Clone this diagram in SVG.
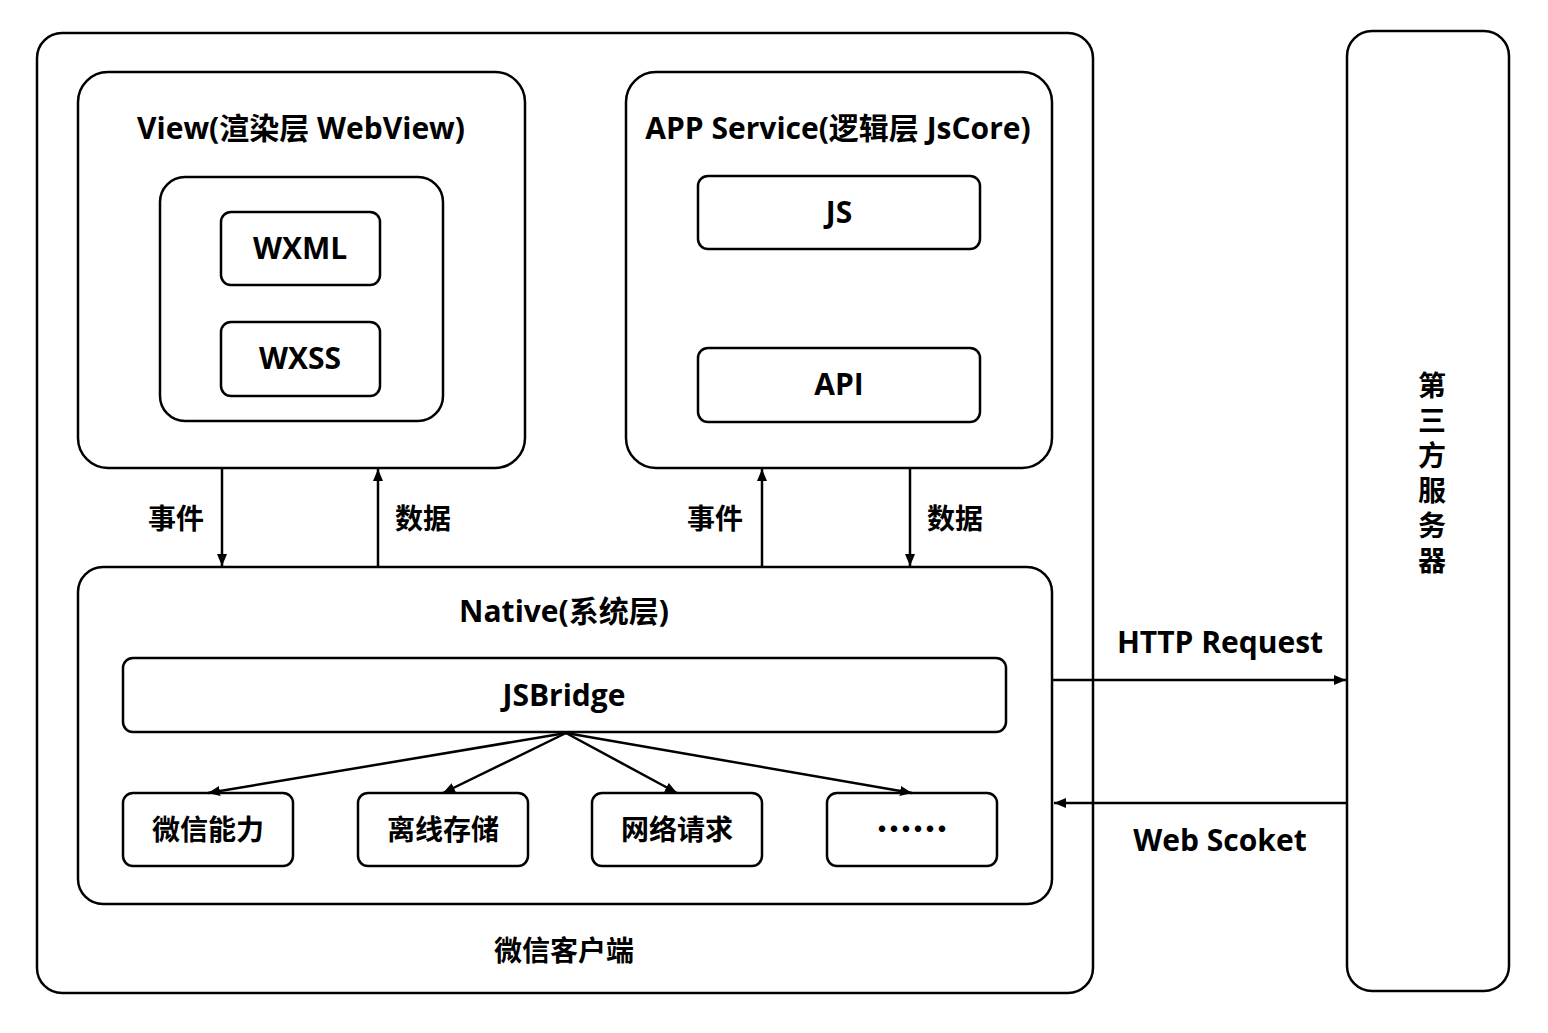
<svg xmlns="http://www.w3.org/2000/svg" width="1548" height="1033" viewBox="0 0 1548 1033">
<style>
.box{fill:#fff;stroke:#000;stroke-width:2.5}
.t{font-family:"Open Sans","Noto Sans CJK SC",sans-serif;font-weight:bold;font-size:30px;fill:#000;text-anchor:middle}
.c{font-family:"Noto Sans CJK SC",sans-serif;font-weight:bold;font-size:28px;fill:#000;text-anchor:middle}
.v{font-family:"Noto Sans CJK SC",sans-serif;font-weight:bold;font-size:28px;fill:#000;writing-mode:vertical-rl;letter-spacing:7px}
.d{font-family:"Noto Sans CJK SC",sans-serif;font-weight:900;font-size:36px;fill:#000;text-anchor:middle}
.ln{stroke:#000;stroke-width:2.5;fill:none;marker-end:url(#ah)}
</style>
<defs>
<marker id="ah" viewBox="0 0 12 10" refX="12" refY="5" markerWidth="12" markerHeight="10" markerUnits="userSpaceOnUse" orient="auto">
<path d="M0,0 L12,5 L0,10 Z" fill="#000"/>
</marker>
</defs>
<rect width="1548" height="1033" fill="#fff"/>
<g id="client">
<rect class="box" x="37" y="33" width="1056" height="960" rx="25"/>
<text class="c" x="564" y="961">微信客户端</text>
</g>
<g id="view">
<rect class="box" x="78" y="72" width="447" height="396" rx="30"/>
<text class="t" x="301" y="139">View(渲染层 WebView)</text>
</g>
<g id="view-inner">
<rect class="box" x="160" y="177" width="283" height="244" rx="25"/>
</g>
<g id="wxml">
<rect class="box" x="221" y="212" width="159" height="73" rx="10"/>
<text class="t" x="300" y="259">WXML</text>
</g>
<g id="wxss">
<rect class="box" x="221" y="322" width="159" height="74" rx="10"/>
<text class="t" x="300" y="369">WXSS</text>
</g>
<g id="appservice">
<rect class="box" x="626" y="72" width="426" height="396" rx="30"/>
<text class="t" x="838" y="139">APP Service(逻辑层 JsCore)</text>
</g>
<g id="js">
<rect class="box" x="698" y="176" width="282" height="73" rx="10"/>
<text class="t" x="839" y="223">JS</text>
</g>
<g id="api">
<rect class="box" x="698" y="348" width="282" height="74" rx="10"/>
<text class="t" x="839" y="395">API</text>
</g>
<g id="native">
<rect class="box" x="78" y="567" width="974" height="337" rx="25"/>
<text class="t" x="564" y="622">Native(系统层)</text>
</g>
<g id="jsbridge">
<rect class="box" x="123" y="658" width="883" height="74" rx="10"/>
<text class="t" x="564" y="706">JSBridge</text>
</g>
<g id="wx-ability">
<rect class="box" x="123" y="793" width="170" height="73" rx="10"/>
<text class="c" x="208" y="840">微信能力</text>
</g>
<g id="offline-storage">
<rect class="box" x="358" y="793" width="170" height="73" rx="10"/>
<text class="c" x="443" y="840">离线存储</text>
</g>
<g id="network">
<rect class="box" x="592" y="793" width="170" height="73" rx="10"/>
<text class="c" x="677" y="840">网络请求</text>
</g>
<g id="more">
<rect class="box" x="827" y="793" width="170" height="73" rx="10"/>
<text class="d" x="912" y="843">……</text>
</g>
<g id="server">
<rect class="box" x="1347" y="31" width="162" height="960" rx="25"/>
<text class="v" x="1432" y="371">第三方服务器</text>
</g>
<g id="connectors">
<line class="ln" x1="222" y1="468" x2="222" y2="566"/>
<line class="ln" x1="378" y1="567" x2="378" y2="469"/>
<line class="ln" x1="762" y1="567" x2="762" y2="469"/>
<line class="ln" x1="910" y1="468" x2="910" y2="566"/>
<line class="ln" x1="566" y1="733" x2="208" y2="793"/>
<line class="ln" x1="566" y1="733" x2="443" y2="793"/>
<line class="ln" x1="566" y1="733" x2="677" y2="793"/>
<line class="ln" x1="566" y1="733" x2="912" y2="793"/>
<line class="ln" x1="1053" y1="680" x2="1346" y2="680"/>
<line class="ln" x1="1347" y1="803" x2="1054" y2="803"/>
<text class="c" x="176" y="529">事件</text>
<text class="c" x="423" y="529">数据</text>
<text class="c" x="715" y="529">事件</text>
<text class="c" x="955" y="529">数据</text>
<text class="t" x="1220" y="653">HTTP Request</text>
<text class="t" x="1220" y="851">Web Scoket</text>
</g>
</svg>
